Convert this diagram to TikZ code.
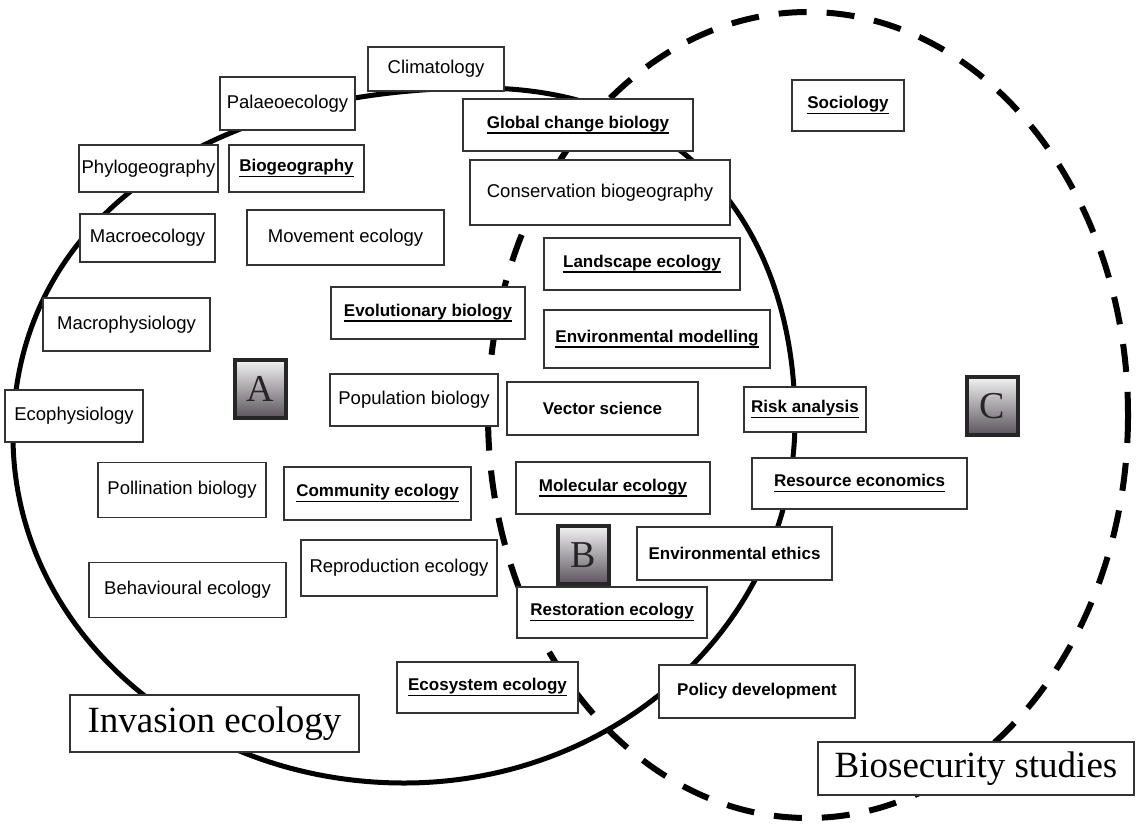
\documentclass[tikz,border=0pt]{standalone}
\usepackage{fontspec}
\setmainfont{Liberation Serif}
\setsansfont{Liberation Sans}
\definecolor{zonedark}{HTML}{5B535D}
\newcommand{\ulword}[1]{\sbox0{#1}\rlap{\rule[-5.4pt]{\wd0}{1.5pt}}\usebox0}

\begin{document}
\begin{tikzpicture}[x=1pt, y=-1pt,
    field/.style={draw=black!80, line width=1.5pt, fill=white, inner sep=0pt},
    plainfield/.style={field, font=\sffamily\fontsize{18.5}{22}\selectfont},
    boldfield/.style={field, font=\sffamily\bfseries\fontsize{17}{20}\selectfont},
    areabox/.style={field, font=\rmfamily\fontsize{37}{44}\selectfont},
    zonebox/.style={draw=black!85, line width=4pt, top color=black!5, bottom color=zonedark,
        minimum width=51pt, minimum height=58pt, inner sep=0pt, text=black!85,
        font=\rmfamily\fontsize{38}{44}\selectfont}]
    \useasboundingbox (0,0) rectangle (1139,825);
    \draw[line width=6pt, dash pattern=on 28pt off 20pt] (808,415) ellipse [x radius=320, y radius=403];
    \draw[line width=5pt] (795,420) .. controls (795,235) and (690,88) .. (480,88)
        .. controls (200,88) and (13,225) .. (13,436)
        .. controls (13,628) and (188,783) .. (404,783)
        .. controls (620,783) and (795,620) .. cycle;
    % fields of invasion ecology
    \foreach \n/\cx/\cy/\w/\h/\t in {
        clim/436/69/136/44/Climatology,
        palaeo/287.5/103.5/135/53/Palaeoecology,
        phylo/148.5/168.5/139/47/Phylogeography,
        macroeco/147.5/238/135/48/Macroecology,
        movement/345.5/237.5/197/55/Movement ecology,
        macrophys/126.5/324.5/167/53/Macrophysiology,
        popbio/414/400/168/52/Population biology,
        ecophys/74/416/138/52/Ecophysiology,
        pollin/182/490/168/55/Pollination biology,
        reprod/399/568/196/56/Reproduction ecology,
        behav/187.5/590/197/55/Behavioural ecology,
        conserv/600/192.5/260/65/Conservation biogeography} {
        \node[plainfield, minimum width=\w pt, minimum height=\h pt] (\n) at (\cx,\cy) {\t};
    }
    % shared fields
    \foreach \n/\cx/\cy/\w/\h/\t in {
        glob/578/125/230/52/Global change biology,
        biogeo/296.5/168.5/135/47/Biogeography,
        evol/428/313/194/52/Evolutionary biology,
        commu/377.5/493.5/187/53/Community ecology,
        ecosys/487.5/687.5/181/51/Ecosystem ecology,
        landsc/642/264/196/52/Landscape ecology,
        envmod/657/339/226/58/Environmental modelling,
        molec/613/488/194/52/Molecular ecology,
        restor/612/612.5/190/51/Restoration ecology,
        risk/805/409.5/122/45/Risk analysis,
        resec/859.5/483.5/215/51/Resource economics,
        socio/848/105.5/112/51/Sociology} {
        \node[boldfield, minimum width=\w pt, minimum height=\h pt] (\n) at (\cx,\cy) {\ulword{\t}};
    }
    \foreach \n/\cx/\cy/\w/\h/\t in {
        vector/602.5/408.5/191/53/Vector science,
        ethics/734.5/553.5/195/53/Environmental ethics,
        policy/757/691.5/196/53/Policy development} {
        \node[boldfield, minimum width=\w pt, minimum height=\h pt] (\n) at (\cx,\cy) {\t};
    }
    \node[areabox, minimum width=289pt, minimum height=57pt] (invasion) at (214.5,723.5) {Invasion ecology};
    \node[areabox, minimum width=316pt, minimum height=53pt] (biosec) at (976,768.5) {Biosecurity studies};
    \node[zonebox] (zoneA) at (260.5,389) {A};
    \node[zonebox] (zoneB) at (583.5,555) {B};
    \node[zonebox] (zoneC) at (992.5,406) {C};
\end{tikzpicture}
\end{document}
